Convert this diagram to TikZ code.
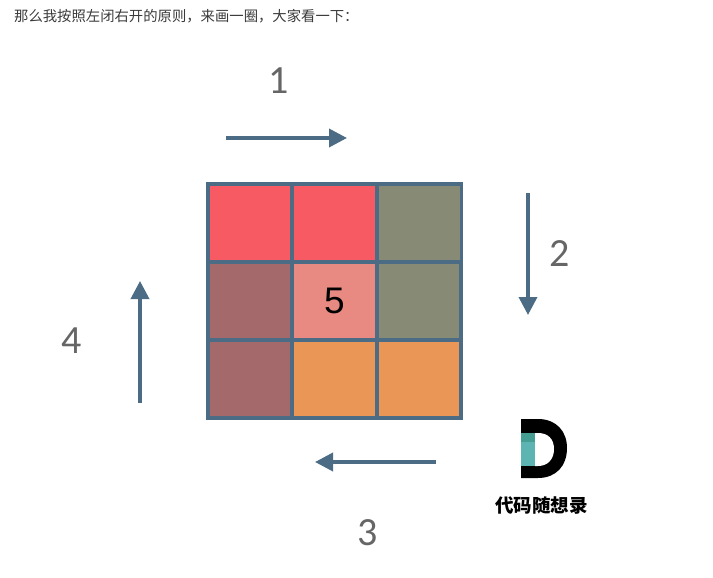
\documentclass[tikz,border=0pt]{standalone}
\usepackage{xcolor}
\usepackage{fontspec}
\setmainfont{Liberation Sans}
\newfontfamily\cjk{Noto Sans CJK SC}
\newfontfamily\numfont{Carlito}
\usetikzlibrary{positioning, arrows.meta}

\definecolor{gridblue}{HTML}{4C6C86}
\definecolor{cellred}{HTML}{F85A64}
\definecolor{cellolive}{HTML}{878A74}
\definecolor{cellmauve}{HTML}{A4696B}
\definecolor{cellpink}{HTML}{E88A82}
\definecolor{cellorange}{HTML}{E99657}
\definecolor{numgray}{HTML}{666666}
\definecolor{inktext}{HTML}{3A3A3A}
\definecolor{logoteal}{HTML}{5CB5B3}
\definecolor{logodark}{HTML}{459E94}

\begin{document}
\begin{tikzpicture}[
        x=1pt, y=-1pt,
        cell/.style={rectangle, draw=gridblue, line width=3.4pt, outer sep=0pt, inner sep=0pt, minimum width=#1, minimum height=78pt},
        turn/.style={draw=gridblue, line width=3.6pt, -{Triangle[length=18pt, width=18pt]}},
        turnlabel/.style={text=numgray, font=\numfont\fontsize{40}{40}\selectfont, inner sep=0pt}
        ]

        \useasboundingbox (0,0) rectangle (713,578);

        % Caption
        \node[anchor=west, inner sep=0pt, text=inktext, font=\cjk\fontsize{14.35}{14.35}\selectfont] (caption) at (14,16) {那么我按照左闭右开的原则，来画一圈，大家看一下：};

        % Grid
        \node[cell=84pt, fill=cellred, anchor=north west] (c11) at (208,184) {};
        \node[cell=85pt, fill=cellred, right=0pt of c11] (c12) {};
        \node[cell=84.5pt, fill=cellolive, right=0pt of c12] (c13) {};
        \node[cell=84pt, fill=cellmauve, below=0pt of c11] (c21) {};
        \node[cell=85pt, fill=cellpink, right=0pt of c21, font=\fontsize{37}{37}\selectfont] (c22) {\raisebox{-1.5pt}{5}\hspace{3pt}};
        \node[cell=84pt, fill=cellolive, right=0pt of c22] (c23) {};
        \node[cell=84pt, fill=cellmauve, below=0pt of c21] (c31) {};
        \node[cell=85pt, fill=cellorange, right=0pt of c31] (c32) {};
        \node[cell=84pt, fill=cellorange, right=0pt of c32] (c33) {};

        % Arrows
        \coordinate (start1) at (226,138);
        \coordinate (end1) at (347,138);
        \coordinate (start2) at (528,193);
        \coordinate (end2) at (528,315);
        \coordinate (start3) at (436,462);
        \coordinate (end3) at (315,462);
        \coordinate (start4) at (140,403);
        \coordinate (end4) at (140,281);
        \draw[turn] (start1) -- (end1);
        \draw[turn] (start2) -- (end2);
        \draw[turn] (start3) -- (end3);
        \draw[turn] (start4) -- (end4);

        % Labels
        \node[turnlabel] (label1) at (279,81) {1};
        \node[turnlabel] (label2) at (560,254) {2};
        \node[turnlabel] (label3) at (368,533) {3};
        \node[turnlabel] (label4) at (72,341) {4};

        % Logo
        \fill[black] (521,419) -- (538,419) .. controls (556,419) and (567,431) .. (567,448) .. controls (567,466) and (556,478) .. (538,478) -- (521,478) -- cycle;
        \fill[white] (535,433) -- (538,433) .. controls (548,433) and (554,439) .. (554,449) .. controls (554,459) and (548,466) .. (538,466) -- (535,466) -- cycle;
        \fill[logodark] (521,433) rectangle (535,442);
        \fill[logoteal] (521,442) rectangle (535,466);
        \node[inner sep=0pt, font=\cjk\bfseries\fontsize{18.5}{18.5}\selectfont] (logotext) at (541.5,506) {代码随想录};

    \end{tikzpicture}
\end{document}
